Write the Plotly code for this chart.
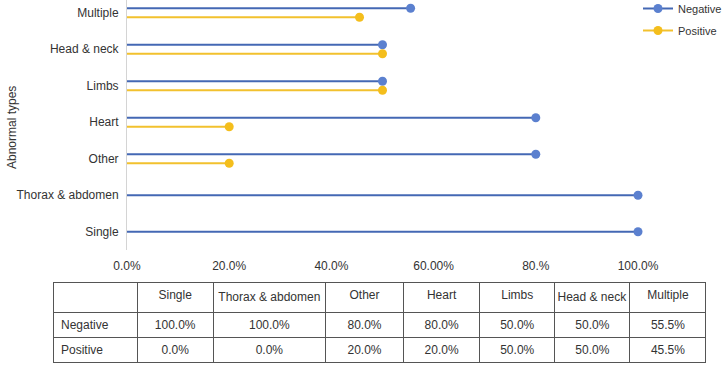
import plotly.graph_objects as go

categories = ["Single", "Thorax & abdomen", "Other", "Heart", "Limbs", "Head & neck", "Multiple"]
negative = [100.0, 100.0, 80.0, 80.0, 50.0, 50.0, 55.5]
positive = [0.0, 0.0, 20.0, 20.0, 50.0, 50.0, 45.5]
x_tickvals = [0, 20, 40, 60, 80, 100]
x_ticktext = ["0.0%", "20.0%", "40.0%", "60.00%", "80.%", "100.0%"]
neg_text = ["100.0%", "100.0%", "80.0%", "80.0%", "50.0%", "50.0%", "55.5%"]
pos_text = ["0.0%", "0.0%", "20.0%", "20.0%", "50.0%", "50.0%", "45.5%"]

W, H = 725, 371
FONT = "Liberation Sans, Arial, Helvetica, sans-serif"
NEG_LINE, NEG_MARK = "#4468B4", "#5B80CF"
POS_LINE, POS_MARK = "#F2C12E", "#F4BE1C"
OFF = 0.123

fig = go.Figure()

def add_series(values, ys, line_c, mark_c):
    lx, ly, mx, my = [], [], [], []
    for v, y in zip(values, ys):
        if v <= 0:
            continue
        lx += [0, v, None]
        ly += [y, y, None]
        mx.append(v)
        my.append(y)
    fig.add_trace(go.Scatter(x=lx, y=ly, mode="lines", line=dict(color=line_c, width=2),
                             showlegend=False, hoverinfo="skip", cliponaxis=False))
    fig.add_trace(go.Scatter(x=mx, y=my, mode="markers", marker=dict(color=mark_c, size=9),
                             showlegend=False, cliponaxis=False))

neg_y = [i + (OFF if p > 0 else 0) for i, p in enumerate(positive)]
pos_y = [i - OFF for i in range(len(categories))]
add_series(negative, neg_y, NEG_LINE, NEG_MARK)
add_series(positive, pos_y, POS_LINE, POS_MARK)

fig.add_trace(go.Scatter(x=[None], y=[None], mode="lines+markers", name="Negative", legendgroup="neg",
                         line=dict(color=NEG_LINE, width=2), marker=dict(color=NEG_MARK, size=9)))
fig.add_trace(go.Scatter(x=[None], y=[None], mode="lines+markers", name="Positive", legendgroup="pos",
                         line=dict(color=POS_LINE, width=2), marker=dict(color=POS_MARK, size=9)))

x0px, x100px = 127, 638
xmax = 110
x1px = x0px + (x100px - x0px) * xmax / 100

header_labels = [""] + [c.replace(" ", "\u00a0") for c in categories]

fig.add_trace(go.Table(
    domain=dict(x=[53 / W, 706 / W], y=[0, 1 - 282 / H]),
    columnwidth=[84, 76, 112, 78, 76, 75, 75, 76],
    header=dict(values=header_labels, height=25, align=["left"] + ["center"] * 7,
                fill_color="white", line=dict(color="#555", width=1),
                font=dict(family=FONT, size=12, color="#333")),
    cells=dict(values=[["Negative", "Positive"]] + [[n, p] for n, p in zip(neg_text, pos_text)],
               height=25, align=["left"] + ["center"] * 7,
               fill_color="white", line=dict(color="#555", width=1),
               font=dict(family=FONT, size=12, color="#333")),
))

fig.update_layout(
    width=W, height=H,
    margin=dict(l=0, r=0, t=0, b=0, autoexpand=False),
    paper_bgcolor="white", plot_bgcolor="white",
    font=dict(family=FONT, size=12, color="#333"),
    xaxis=dict(domain=[x0px / W, x1px / W], range=[0, xmax], tickvals=x_tickvals, ticktext=x_ticktext,
               showgrid=False, zeroline=False, showline=False, ticks="", automargin=False,
               ticklabelstandoff=7, tickfont=dict(size=12, color="#333")),
    yaxis=dict(domain=[1 - 250 / H, 1], range=[-0.5, 6.35], tickvals=list(range(len(categories))),
               ticktext=categories, showgrid=False, zeroline=False, showline=True, automargin=False,
               linecolor="#d4d4d4", linewidth=1, ticks="", ticklabelstandoff=5,
               tickfont=dict(size=12, color="#333")),
    legend=dict(x=638 / W, y=1 + 6 / H, xanchor="left", yanchor="top", font=dict(size=11, color="#333"),
                bgcolor="rgba(0,0,0,0)", tracegroupgap=3),
    annotations=[dict(text="Abnormal types", x=12 / W, y=1 - 128 / H, xref="paper", yref="paper",
                      xanchor="center", yanchor="middle",
                      textangle=-90, showarrow=False, font=dict(size=12, color="#333"))],
)

fig.write_html("out.html", config={"displayModeBar": False},
               post_script="document.body.style.margin='0';document.body.style.overflow='hidden';")
